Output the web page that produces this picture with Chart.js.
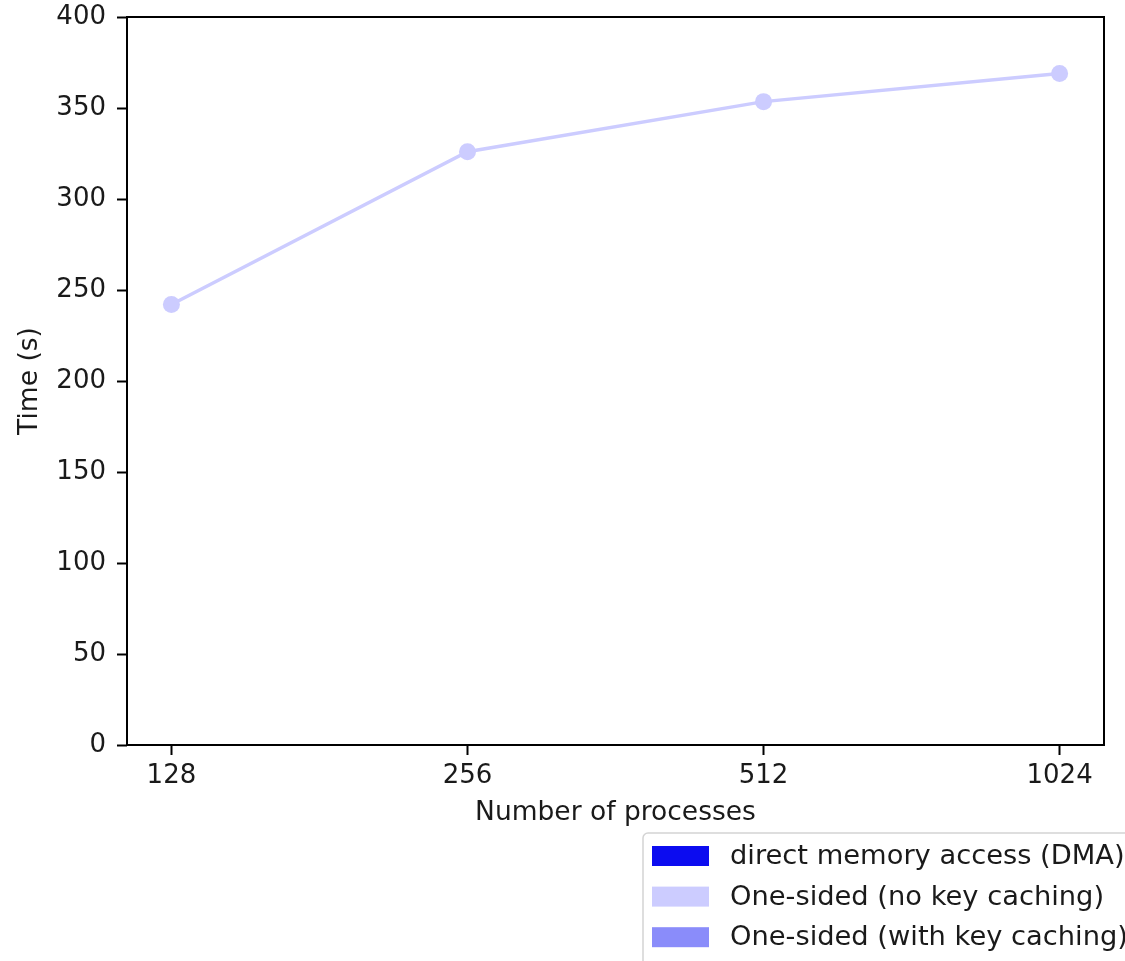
<!DOCTYPE html>
<html>
<head>
<meta charset="utf-8">
<script src="https://cdn.jsdelivr.net/npm/chart.js@4"></script>
<style>
  html, body { margin: 0; padding: 0; background: #ffffff; }
  canvas { display: block; }
</style>
</head>
<body>
<canvas id="chart" width="1125" height="961"></canvas>
<script>
// Process counts on the x axis (evenly spaced categories)
const processCounts = ['128', '256', '512', '1024'];

// Run time in seconds for each process count
const dmaTimes = [];
const oneSidedNoCacheTimes = [242, 326, 353.5, 369];
const oneSidedCacheTimes = [];

const seriesLabels = [
  'direct memory access (DMA)',
  'One-sided (no key caching)',
  'One-sided (with key caching)'
];
const seriesColors = ['#0c0cf0', '#ccccff', '#8a8cfa'];

const yTicks = [0, 50, 100, 150, 200, 250, 300, 350, 400];

const FONT = 'DejaVu Sans';
const TEXT = '#1a1a1a';

const toPoints = (vals) => vals.map((v, i) => ({ x: i, y: v }));

// Plot frame around the chart area
const framePlugin = {
  id: 'frame',
  afterDatasetsDraw(chart) {
    const { ctx, chartArea: a } = chart;
    ctx.save();
    ctx.strokeStyle = '#000';
    ctx.lineWidth = 2;
    ctx.strokeRect(a.left, a.top, a.right - a.left, a.bottom - a.top);
    ctx.restore();
  }
};

// Legend box below the plot, at the lower right
const boxLegendPlugin = {
  id: 'boxLegend',
  afterDraw(chart) {
    const { ctx } = chart;
    const x0 = 643, y0 = 833, w = 500, h = 140;
    ctx.save();
    ctx.fillStyle = 'rgba(255,255,255,0.8)';
    ctx.strokeStyle = '#d4d4d4';
    ctx.lineWidth = 1.5;
    ctx.beginPath();
    ctx.roundRect(x0, y0, w, h, 5);
    ctx.fill();
    ctx.stroke();
    ctx.font = '27.3px "' + FONT + '"';
    ctx.textBaseline = 'middle';
    ctx.textAlign = 'left';
    chart.data.datasets.forEach((ds, i) => {
      const cy = 856 + i * 40.6;
      ctx.fillStyle = ds.legendColor;
      ctx.fillRect(652, cy - 10, 57, 20);
      ctx.fillStyle = TEXT;
      ctx.fillText(ds.label, 730, cy + 1);
    });
    ctx.restore();
  }
};

const makeDataset = (label, color, vals) => ({
  label: label,
  legendColor: color,
  data: toPoints(vals),
  borderColor: color,
  backgroundColor: color,
  borderWidth: 3.5,
  pointRadius: 8.5,
  pointBorderWidth: 0,
  pointBackgroundColor: color,
  pointHoverRadius: 8.5,
  tension: 0
});

new Chart(document.getElementById('chart'), {
  type: 'line',
  data: {
    datasets: [
      makeDataset(seriesLabels[0], seriesColors[0], dmaTimes),
      makeDataset(seriesLabels[1], seriesColors[1], oneSidedNoCacheTimes),
      makeDataset(seriesLabels[2], seriesColors[2], oneSidedCacheTimes)
    ]
  },
  options: {
    responsive: false,
    animation: false,
    devicePixelRatio: 1,
    layout: { padding: { top: 17, right: 21, bottom: 126, left: 0 } },
    plugins: {
      legend: { display: false },
      tooltip: { enabled: false }
    },
    scales: {
      x: {
        type: 'linear',
        min: -0.15,
        max: 3.15,
        afterBuildTicks: (axis) => {
          axis.ticks = processCounts.map((_, i) => ({ value: i }));
        },
        afterFit: (axis) => {
          axis.height = 90;
          axis.paddingLeft = 0;
          axis.paddingRight = 0;
        },
        ticks: {
          callback: (v) => processCounts[v],
          font: { family: FONT, size: 26 },
          color: TEXT,
          padding: 6,
          maxRotation: 0,
          autoSkip: false
        },
        grid: {
          drawOnChartArea: false,
          drawTicks: true,
          tickLength: 10,
          tickWidth: 2,
          tickColor: '#000'
        },
        border: { display: false },
        title: {
          display: true,
          text: 'Number of processes',
          font: { family: FONT, size: 26.5 },
          color: TEXT,
          padding: { top: 0, bottom: 6 }
        }
      },
      y: {
        min: 0,
        max: 400,
        afterBuildTicks: (axis) => {
          axis.ticks = yTicks.map((v) => ({ value: v }));
        },
        afterFit: (axis) => {
          axis.width = 127;
          axis.paddingTop = 0;
          axis.paddingBottom = 0;
        },
        ticks: {
          font: { family: FONT, size: 26 },
          color: TEXT,
          padding: 11
        },
        grid: {
          drawOnChartArea: false,
          drawTicks: true,
          tickLength: 10,
          tickWidth: 2,
          tickColor: '#000'
        },
        border: { display: false },
        title: {
          display: true,
          text: 'Time (s)',
          font: { family: FONT, size: 26.5 },
          color: TEXT,
          padding: { top: 14, bottom: 0 }
        }
      }
    }
  },
  plugins: [framePlugin, boxLegendPlugin]
});
</script>
</body>
</html>
